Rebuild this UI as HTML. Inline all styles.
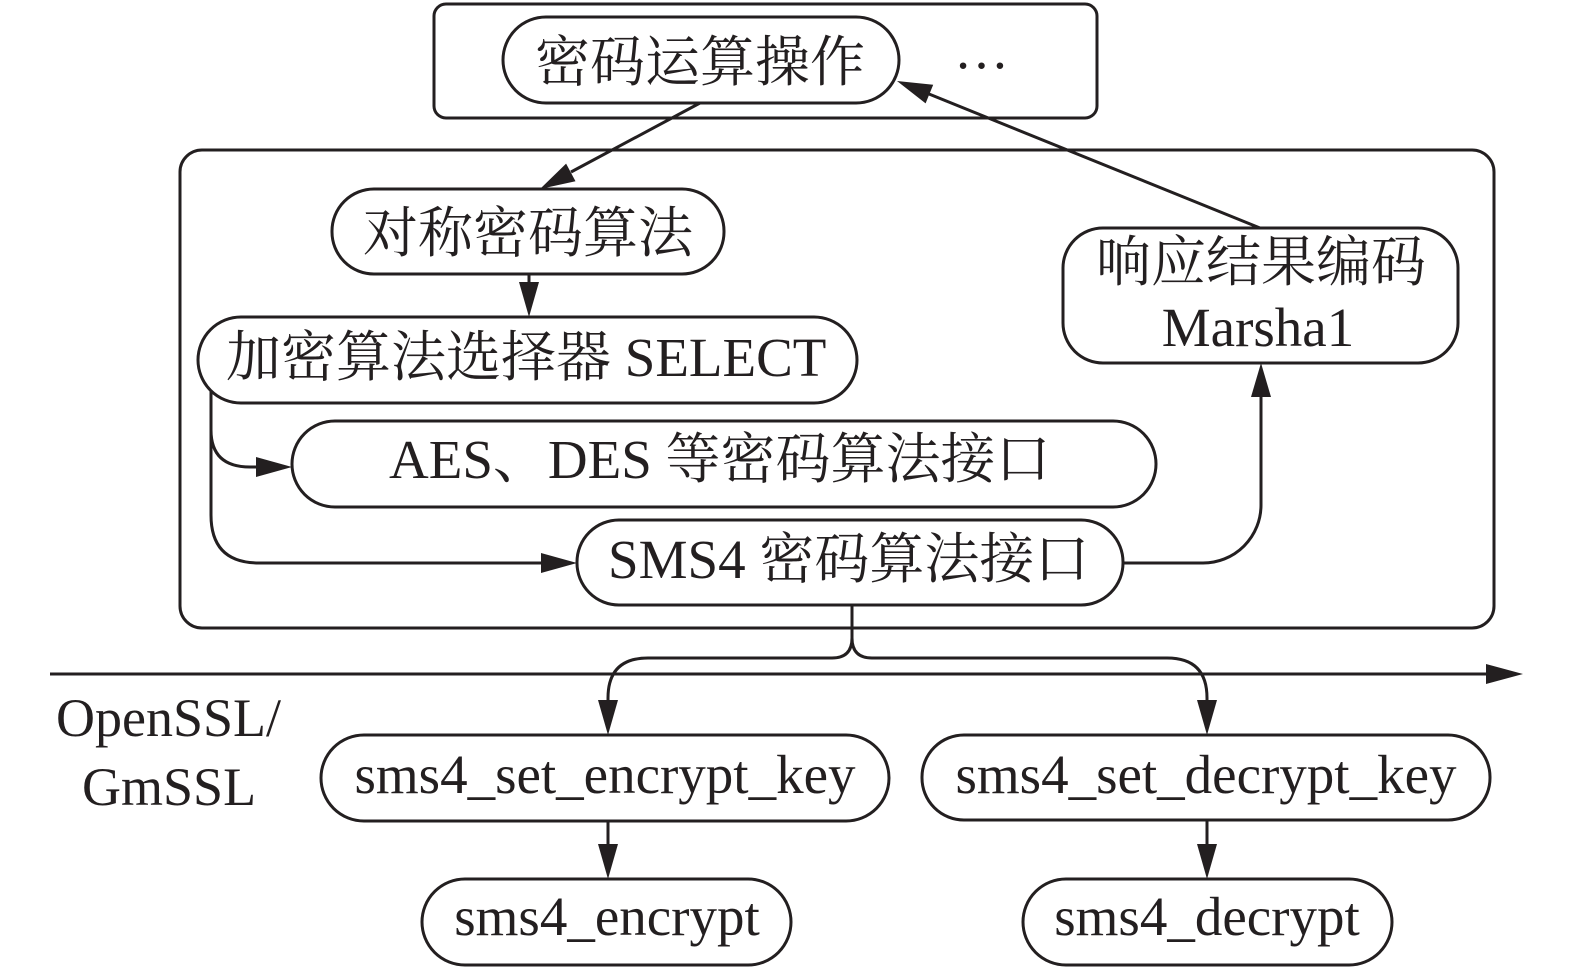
<!DOCTYPE html>
<html>
<head>
<meta charset="utf-8">
<style>
  html, body { margin:0; padding:0; background:#ffffff; }
  body { width:1575px; height:969px; overflow:hidden; }
  svg { display:block; }
  text { font-family: "Liberation Serif", "Noto Serif CJK SC", serif; fill:#231f20; }
</style>
</head>
<body>
<svg width="1575" height="969" viewBox="0 0 1575 969" xmlns="http://www.w3.org/2000/svg">
  <g fill="none" stroke="#231f20" stroke-width="3">
    <!-- top box -->
    <rect x="434" y="4" width="663" height="114" rx="12" ry="12"/>
    <!-- 密码运算操作 pill -->
    <rect x="503" y="17" width="396" height="86" rx="43" ry="43"/>
    <!-- outer container -->
    <rect x="180" y="150" width="1314" height="478" rx="22" ry="22"/>
    <!-- 对称密码算法 -->
    <rect x="332" y="189" width="392" height="85" rx="42" ry="42"/>
    <!-- SELECT -->
    <rect x="198" y="317" width="659" height="86" rx="43" ry="43"/>
    <!-- AES -->
    <rect x="292" y="421" width="864" height="86" rx="43" ry="43"/>
    <!-- SMS4 -->
    <rect x="577" y="520" width="546" height="85" rx="42" ry="42"/>
    <!-- response -->
    <rect x="1063" y="228" width="395" height="135" rx="40" ry="40"/>
    <!-- bottom pills -->
    <rect x="321" y="735" width="568" height="86" rx="43" ry="43"/>
    <rect x="922" y="735" width="568" height="85" rx="42" ry="42"/>
    <rect x="422" y="879" width="369" height="86" rx="43" ry="43"/>
    <rect x="1023" y="879" width="369" height="86" rx="43" ry="43"/>

    <!-- connectors -->
    <line x1="700" y1="103" x2="571" y2="172"/>
    <line x1="1260" y1="228" x2="929" y2="94"/>
    <line x1="529" y1="274" x2="529" y2="283"/>
    <path d="M211,390 V430 Q211,467 250,467 H257"/>
    <path d="M211,430 V515 Q211,563 259,563 H543"/>
    <path d="M1123,563 H1203 A58,58 0 0 0 1261,505 V396"/>
    <path d="M852,605 V638 Q852,658 832,658 H648 Q608,658 608,698 V701"/>
    <path d="M852,638 Q852,658 872,658 H1167 Q1207,658 1207,698 V701"/>
    <line x1="50" y1="674" x2="1487" y2="674"/>
    <line x1="608" y1="821" x2="608" y2="845"/>
    <line x1="1207" y1="820" x2="1207" y2="845"/>
  </g>

  <!-- arrowheads -->
  <g fill="#231f20" stroke="none">
    <polygon points="540,189 566.1,163.6 575.5,181.2"/>
    <polygon points="897,81 933.2,84.8 925.6,103.4"/>
    <polygon points="529,317 519,282 539,282"/>
    <polygon points="292,467 256,457 256,477"/>
    <polygon points="577,563 541,553 541,573"/>
    <polygon points="1261,363 1251,397 1271,397"/>
    <polygon points="1523,674 1486,664 1486,684"/>
    <polygon points="608,735 598,700 618,700"/>
    <polygon points="1207,735 1197,700 1217,700"/>
    <polygon points="608,879 598,844 618,844"/>
    <polygon points="1207,879 1197,844 1217,844"/>
  </g>

  <!-- labels -->
  <g font-size="55">
    <text x="535" y="81">密码运算操作</text>
    <text x="954" y="68">…</text>
    <text x="363" y="252">对称密码算法</text>
    <text x="226" y="376">加密算法选择器 SELECT</text>
    <text x="389" y="478">AES、DES 等密码算法接口</text>
    <text x="608" y="578">SMS4 密码算法接口</text>
    <text x="1096" y="281">响应结果编码</text>
    <text x="1258" y="346" text-anchor="middle">Marsha1</text>
    <text x="605" y="793" text-anchor="middle">sms4_set_encrypt_key</text>
    <text x="1206" y="793" text-anchor="middle">sms4_set_decrypt_key</text>
    <text x="607" y="935" text-anchor="middle">sms4_encrypt</text>
    <text x="1207" y="935" text-anchor="middle">sms4_decrypt</text>
  </g>
  <g font-size="54">
    <text x="56" y="736">OpenSSL/</text>
    <text x="82" y="805">GmSSL</text>
  </g>
</svg>
</body>
</html>
